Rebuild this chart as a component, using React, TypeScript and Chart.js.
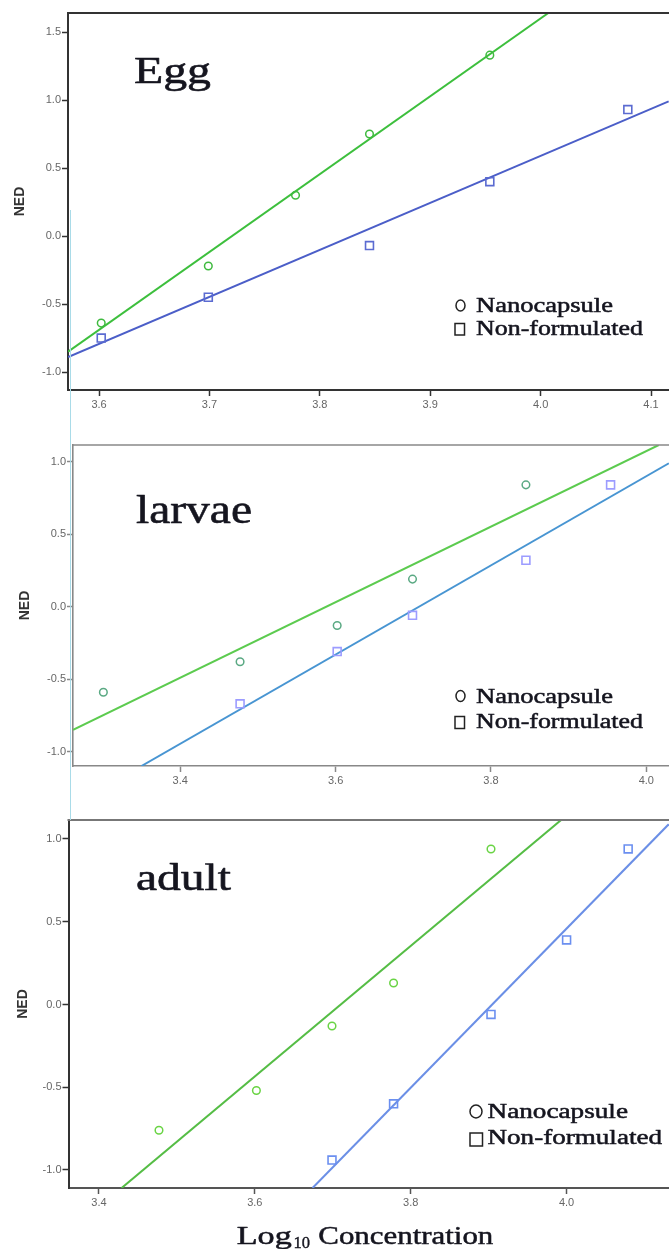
import React, { useEffect, useRef } from "react";
import { Chart, registerables } from "chart.js";

Chart.register(...registerables);

// ---------------- DATA ----------------
// Egg
const eggNanoX = [3.602, 3.699, 3.778, 3.845, 3.954];
const eggNanoY = [-0.64, -0.22, 0.3, 0.75, 1.33];
const eggNonX = [3.602, 3.699, 3.845, 3.954, 4.079];
const eggNonY = [-0.75, -0.45, -0.07, 0.4, 0.93];
const eggNanoFitX = [3.572, 4.007];
const eggNanoFitY = [-0.85, 1.64];
const eggNonFitX = [3.572, 4.116];
const eggNonFitY = [-0.89, 0.99];

// Larvae
const larvaeNanoX = [3.301, 3.477, 3.602, 3.699, 3.845];
const larvaeNanoY = [-0.59, -0.38, -0.13, 0.19, 0.84];
const larvaeNonX = [3.477, 3.602, 3.699, 3.845, 3.954];
const larvaeNonY = [-0.67, -0.31, -0.06, 0.32, 0.84];
const larvaeNanoFitX = [3.262, 4.016];
const larvaeNanoFitY = [-0.85, 1.115];
const larvaeNonFitX = [3.35, 4.029];
const larvaeNonFitY = [-1.099, 0.989];

// Adult
const adultNanoX = [3.477, 3.602, 3.699, 3.778, 3.903];
const adultNanoY = [-0.76, -0.52, -0.13, 0.13, 0.94];
const adultNonX = [3.699, 3.778, 3.903, 4.0, 4.079];
const adultNonY = [-0.94, -0.6, -0.06, 0.39, 0.94];
const adultNanoFitX = [3.429, 3.993];
const adultNanoFitY = [-1.109, 1.115];
const adultNonFitX = [3.674, 4.131];
const adultNonFitY = [-1.109, 1.089];

const seriesNames = ["Nanocapsule", "Non-formulated"];
const panelNames = ["Egg", "larvae", "adult"];
const yAxisTitle = "NED";
const xTitleParts = ["Log", "10", "Concentration"];
const yStep = 0.5;

// ---------------- STYLE / LAYOUT ----------------
const SERIF = '"Liberation Serif", "Times New Roman", serif';
const SANS = '"Liberation Sans", Arial, sans-serif';
const TEXT = "#15151f";

type Panel = {
  top: number;
  height: number;
  padTop: number;
  yAxisWidth: number;
  xAxisHeight: number;
  xMin: number;
  xMax: number;
  yMin: number;
  yMax: number;
  xStep: number;
  axisColor: string;
  leftColor: string;
  topColor: string;
  frameWidth: number;
  nedPad: number;
  nanoX: number[];
  nanoY: number[];
  nonX: number[];
  nonY: number[];
  nanoFitX: number[];
  nanoFitY: number[];
  nonFitX: number[];
  nonFitY: number[];
  nanoPoint: string;
  nanoLine: string;
  nonPoint: string;
  nonLine: string;
  label: { text: string; x: number; base: number; size: number; width: number };
  legend: {
    cx: number; cy: number; rx: number; ry: number;
    sx: number; sy: number; sw: number; sh: number;
    tx: number; b1: number; w1: number; b2: number; w2: number; size: number;
  };
  xTitle?: boolean;
};

const panels: Panel[] = [
  {
    top: 0, height: 420, padTop: 13, yAxisWidth: 68, xAxisHeight: 30,
    xMin: 3.5719, xMax: 4.1163, yMin: -1.132, yMax: 1.64, xStep: 0.1,
    axisColor: "#333", leftColor: "#333", topColor: "#333", frameWidth: 2, nedPad: 11.6,
    nanoX: eggNanoX, nanoY: eggNanoY, nonX: eggNonX, nonY: eggNonY,
    nanoFitX: eggNanoFitX, nanoFitY: eggNanoFitY, nonFitX: eggNonFitX, nonFitY: eggNonFitY,
    nanoPoint: "#3fba3f", nanoLine: "#3dbf3d", nonPoint: "#5b6bd1", nonLine: "#4b5ec8",
    label: { text: panelNames[0], x: 134, base: 83.3, size: 38, width: 77 },
    legend: { cx: 460.5, cy: 305.5, rx: 4.5, ry: 5.5, sx: 455, sy: 323.5, sw: 9.5, sh: 11.5,
      tx: 476, b1: 311.7, w1: 137, b2: 335, w2: 167, size: 20 },
  },
  {
    top: 420, height: 380, padTop: 25, yAxisWidth: 73, xAxisHeight: 34,
    xMin: 3.2619, xMax: 4.0292, yMin: -1.099, yMax: 1.115, xStep: 0.2,
    axisColor: "#888", leftColor: "#888", topColor: "#888", frameWidth: 1.6, nedPad: 17,
    nanoX: larvaeNanoX, nanoY: larvaeNanoY, nonX: larvaeNonX, nonY: larvaeNonY,
    nanoFitX: larvaeNanoFitX, nanoFitY: larvaeNanoFitY, nonFitX: larvaeNonFitX, nonFitY: larvaeNonFitY,
    nanoPoint: "#5aa983", nanoLine: "#5ccb4f", nonPoint: "#9c9cff", nonLine: "#4895d2",
    label: { text: panelNames[1], x: 136, base: 103.3, size: 39, width: 116 },
    legend: { cx: 460.5, cy: 276, rx: 4.5, ry: 5.5, sx: 455, sy: 296.5, sw: 9.5, sh: 12,
      tx: 476, b1: 282.7, w1: 137, b2: 308.3, w2: 167, size: 20 },
  },
  {
    top: 800, height: 449, padTop: 20, yAxisWidth: 68.5, xAxisHeight: 61,
    xMin: 3.3609, xMax: 4.1314, yMin: -1.1088, yMax: 1.1148, xStep: 0.2,
    axisColor: "#555", leftColor: "#333", topColor: "#777", frameWidth: 2, nedPad: 14.6,
    nanoX: adultNanoX, nanoY: adultNanoY, nonX: adultNonX, nonY: adultNonY,
    nanoFitX: adultNanoFitX, nanoFitY: adultNanoFitY, nonFitX: adultNonFitX, nonFitY: adultNonFitY,
    nanoPoint: "#6ad445", nanoLine: "#55bd45", nonPoint: "#6b8ff0", nonLine: "#6b8fe6",
    label: { text: panelNames[2], x: 136, base: 90, size: 37, width: 95 },
    legend: { cx: 476, cy: 311.5, rx: 6, ry: 6.5, sx: 470, sy: 333, sw: 12.5, sh: 13,
      tx: 487.5, b1: 318.3, w1: 140.5, b2: 344.3, w2: 174.5, size: 20 },
    xTitle: true,
  },
];

function xy(xs: number[], ys: number[]) {
  return xs.map((x, i) => ({ x, y: ys[i] }));
}

function drawFitted(
  ctx: CanvasRenderingContext2D, text: string, x: number, base: number,
  size: number, width: number, color: string, stroke = 0.5
) {
  ctx.save();
  ctx.font = `${size}px ${SERIF}`;
  const w = ctx.measureText(text).width || 1;
  ctx.translate(x, base);
  ctx.scale(width / w, 1);
  ctx.fillStyle = color;
  ctx.strokeStyle = color;
  ctx.lineWidth = stroke;
  ctx.lineJoin = "round";
  ctx.textAlign = "left";
  ctx.textBaseline = "alphabetic";
  ctx.fillText(text, 0, 0);
  if (stroke > 0) ctx.strokeText(text, 0, 0);
  ctx.restore();
}

function annotPlugin(p: Panel) {
  return {
    id: "annot",
    afterDraw(chart: any) {
      const ctx: CanvasRenderingContext2D = chart.ctx;
      const a = chart.chartArea;
      // top frame line
      ctx.save();
      ctx.strokeStyle = p.topColor;
      ctx.lineWidth = p.frameWidth;
      ctx.beginPath();
      ctx.moveTo(a.left - p.frameWidth / 2, a.top);
      ctx.lineTo(a.right + 5, a.top);
      ctx.stroke();
      ctx.restore();

      // panel label
      drawFitted(ctx, p.label.text, p.label.x, p.label.base, p.label.size, p.label.width, TEXT, 0.6);

      // legend
      const L = p.legend;
      ctx.save();
      ctx.strokeStyle = "#222";
      ctx.lineWidth = 1.5;
      ctx.beginPath();
      ctx.ellipse(L.cx, L.cy, L.rx, L.ry, 0, 0, Math.PI * 2);
      ctx.stroke();
      ctx.strokeRect(L.sx, L.sy, L.sw, L.sh);
      ctx.restore();
      drawFitted(ctx, seriesNames[0], L.tx, L.b1, L.size, L.w1, TEXT, 0.5);
      drawFitted(ctx, seriesNames[1], L.tx, L.b2, L.size, L.w2, TEXT, 0.5);

      if (p.xTitle) {
        drawFitted(ctx, xTitleParts[0], 236.7, 444, 26, 55, TEXT, 0.5);
        drawFitted(ctx, xTitleParts[1], 293.5, 448, 17, 16.5, TEXT, 0.4);
        drawFitted(ctx, xTitleParts[2], 318.3, 444, 26, 175, TEXT, 0.5);
      }
    },
  };
}

function PanelChart({ p }: { p: Panel }) {
  const ref = useRef<HTMLCanvasElement>(null);
  useEffect(() => {
    if (!ref.current) return;
    const tickFont = { family: SANS, size: 11 };
    const chart = new Chart(ref.current, {
      type: "scatter",
      data: {
        datasets: [
          {
            label: seriesNames[0],
            data: xy(p.nanoX, p.nanoY),
            pointStyle: "circle",
            pointRadius: 3.8,
            pointBorderWidth: 1.5,
            pointBorderColor: p.nanoPoint,
            pointBackgroundColor: "rgba(255,255,255,0)",
            showLine: false,
          },
          {
            label: seriesNames[1],
            data: xy(p.nonX, p.nonY),
            pointStyle: "rect",
            pointRadius: 5.6,
            pointBorderWidth: 1.6,
            pointBorderColor: p.nonPoint,
            pointBackgroundColor: "rgba(255,255,255,0)",
            showLine: false,
          },
          {
            label: seriesNames[0] + " fit",
            data: xy(p.nanoFitX, p.nanoFitY),
            showLine: true,
            pointRadius: 0,
            borderColor: p.nanoLine,
            borderWidth: 2,
            fill: false,
            clip: 0,
          } as any,
          {
            label: seriesNames[1] + " fit",
            data: xy(p.nonFitX, p.nonFitY),
            showLine: true,
            pointRadius: 0,
            borderColor: p.nonLine,
            borderWidth: 2,
            fill: false,
            clip: 0,
          } as any,
        ],
      },
      options: {
        responsive: false,
        animation: false,
        devicePixelRatio: 1,
        events: [],
        layout: { autoPadding: false, padding: { top: p.padTop, left: 0, right: 0, bottom: 0 } },
        plugins: { legend: { display: false }, tooltip: { enabled: false } },
        scales: {
          x: {
            type: "linear",
            min: p.xMin,
            max: p.xMax,
            afterFit: (s: any) => {
              s.height = p.xAxisHeight;
              s.paddingLeft = 0;
              s.paddingRight = 0;
            },
            ticks: {
              stepSize: p.xStep,
              includeBounds: false,
              autoSkip: false,
              maxRotation: 0,
              font: tickFont,
              color: "#666",
              padding: 2,
              callback: (v: any) => Number(v).toFixed(1),
            },
            grid: {
              display: true,
              drawOnChartArea: false,
              drawTicks: true,
              tickLength: 6,
              tickWidth: 1.5,
              tickColor: p.axisColor,
            },
            border: { display: true, color: p.axisColor, width: p.frameWidth },
          },
          y: {
            type: "linear",
            min: p.yMin,
            max: p.yMax,
            afterFit: (s: any) => {
              s.width = p.yAxisWidth;
              s.paddingTop = 0;
              s.paddingBottom = 0;
            },
            ticks: {
              stepSize: yStep,
              includeBounds: false,
              autoSkip: false,
              font: tickFont,
              color: "#666",
              padding: 1,
              callback: (v: any) => Number(v).toFixed(1),
            },
            grid: {
              display: true,
              drawOnChartArea: false,
              drawTicks: true,
              tickLength: 6,
              tickWidth: 1.5,
              tickColor: p.leftColor,
            },
            border: { display: true, color: p.leftColor, width: p.frameWidth },
            title: {
              display: true,
              text: yAxisTitle,
              color: "#333",
              font: { family: SANS, size: 14, weight: "bold" },
              padding: { top: p.nedPad, bottom: 0 },
            },
          },
        },
      } as any,
      plugins: [annotPlugin(p)],
    });
    return () => chart.destroy();
  }, [p]);
  return (
    <canvas
      ref={ref}
      width={669}
      height={p.height}
      style={{ position: "absolute", left: 0, top: p.top, width: 669, height: p.height }}
    />
  );
}

export default function App() {
  return (
    <div
      style={{
        position: "absolute",
        left: 0,
        top: 0,
        width: 669,
        height: 1249,
        overflow: "hidden",
        background: "#fff",
      }}
    >
      {panels.map((p, i) => (
        <PanelChart key={i} p={p} />
      ))}
      <div
        style={{
          position: "absolute",
          left: 70,
          top: 210,
          width: 1,
          height: 610,
          background: "#a9dbe8",
        }}
      />
    </div>
  );
}
